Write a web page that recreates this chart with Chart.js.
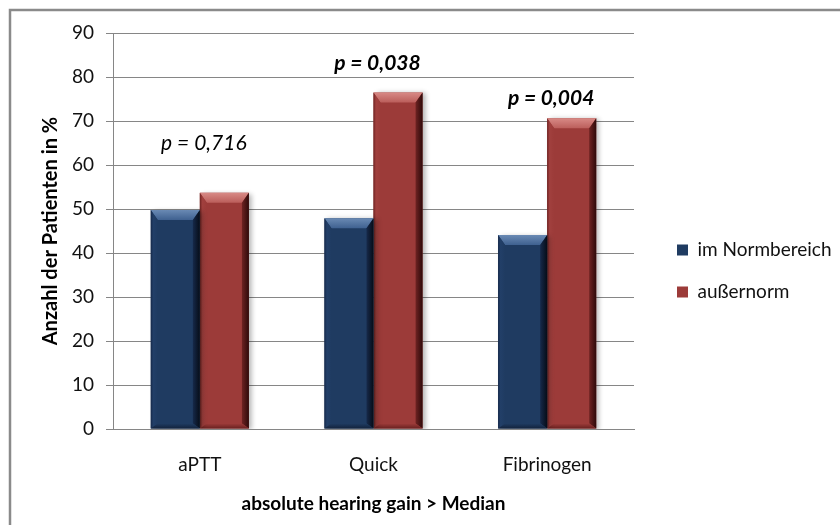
<!DOCTYPE html>
<html>
<head>
<meta charset="utf-8">
<script src="https://cdn.jsdelivr.net/npm/chart.js@4.4.1/dist/chart.umd.min.js"></script>
<style>
html,body{margin:0;padding:0;background:#fff;}
#wrap{width:840px;height:525px;position:relative;}
</style>
</head>
<body>
<div id="wrap"><canvas id="c" width="840" height="525"></canvas></div>
<script>
// ---- data ----
const categories = ['aPTT', 'Quick', 'Fibrinogen'];
const seriesNames = ['im Normbereich', 'außernorm'];
const normValues = [49.8, 47.9, 44.1];
const abnormValues = [53.7, 76.5, 70.6];
const pTexts = ['p = 0,716', 'p = 0,038', 'p = 0,004'];
const pBold = [false, true, true];
const pAtValue = [65.0, 83.2, 75.2];
const yMin = 0, yMax = 90, yStep = 10;
const yTitle = 'Anzahl der Patienten in %';
const xTitle = 'absolute hearing gain > Median';

// ---- style ----
const FONT = 'Lato, "Open Sans", sans-serif';
const TXT = '#111';
const GRID = '#868686';
const PLOT_RIGHT = 634;
const LEGEND_BOX_X = 677;
const LEGEND_SHIFT_Y = -8;

const palette = [
  {face:'#1f3b61', topHi:'#6a8ab4', top:'#3f6190', left:'#223f68', r1:'#16294a', r2:'#060d18', bottom:'#13233d'},
  {face:'#9c3b39', topHi:'#d88a86', top:'#bb5e5b', left:'#a1403e', r1:'#6e2322', r2:'#2e0a0a', bottom:'#6a2120'}
];

function poly(ctx, pts, fill){
  ctx.beginPath();
  ctx.moveTo(pts[0][0], pts[0][1]);
  for (let i = 1; i < pts.length; i++) ctx.lineTo(pts[i][0], pts[i][1]);
  ctx.closePath();
  ctx.fillStyle = fill;
  ctx.fill();
}

const framePlugin = {
  id: 'frame',
  beforeDraw(chart){
    const ctx = chart.ctx;
    ctx.save();
    ctx.fillStyle = '#fff';
    ctx.fillRect(0, 0, chart.width, chart.height);
    ctx.strokeStyle = '#8a8a8a';
    ctx.lineWidth = 2.5;
    ctx.strokeRect(10, 10, chart.width + 40, chart.height + 40);
    ctx.restore();
  }
};

const bevelPlugin = {
  id: 'bevel',
  beforeDatasetDraw(chart){
    const ctx = chart.ctx;
    ctx.save();
    ctx.shadowColor = 'rgba(0,0,0,0.3)';
    ctx.shadowBlur = 5;
    ctx.shadowOffsetX = 3;
    ctx.shadowOffsetY = 1;
  },
  afterDatasetDraw(chart, args){
    const ctx = chart.ctx;
    ctx.restore();
    const c = palette[args.index];
    const meta = args.meta;
    ctx.save();
    meta.data.forEach(el => {
      const p = el.getProps(['x','y','base','width'], true);
      const l = p.x - p.width/2, r = p.x + p.width/2;
      const t = Math.min(p.y, p.base), b = Math.max(p.y, p.base);
      const dt = 10, dl = 7, dr = 7, db = 5;
      let g = ctx.createLinearGradient(0, t, 0, t + dt);
      g.addColorStop(0, c.topHi); g.addColorStop(1, c.top);
      poly(ctx, [[l,t],[r,t],[r-dr,t+dt],[l+dl,t+dt]], g);
      g = ctx.createLinearGradient(r - dr, 0, r, 0);
      g.addColorStop(0, c.r1); g.addColorStop(1, c.r2);
      poly(ctx, [[r,t],[r,b],[r-dr,b-db],[r-dr,t+dt]], g);
      g = ctx.createLinearGradient(l, 0, l + dl, 0);
      g.addColorStop(0, c.r1); g.addColorStop(0.35, c.left); g.addColorStop(1, c.face);
      poly(ctx, [[l,t],[l+dl,t+dt],[l+dl,b-db],[l,b]], g);
      g = ctx.createLinearGradient(0, b - db, 0, b);
      g.addColorStop(0, c.face); g.addColorStop(1, c.bottom);
      poly(ctx, [[l,b],[l+dl,b-db],[r-dr,b-db],[r,b]], g);
    });
    ctx.restore();
  }
};

const pLabelPlugin = {
  id: 'pLabels',
  afterDatasetsDraw(chart){
    const ctx = chart.ctx;
    const xs = chart.scales.x, ys = chart.scales.y;
    ctx.save();
    ctx.fillStyle = '#000';
    ctx.textAlign = 'center';
    ctx.textBaseline = 'middle';
    pTexts.forEach((t, i) => {
      ctx.font = (pBold[i] ? 'italic bold ' : 'italic ') + '21px ' + FONT;
      ctx.fillText(t, xs.getPixelForValue(i) + 4, ys.getPixelForValue(pAtValue[i]));
    });
    ctx.restore();
  }
};

const legendPlacePlugin = {
  id: 'legendPlace',
  afterInit(chart){
    const lg = chart.legend;
    if (!lg) return;
    const f = lg.fit.bind(lg);
    lg.fit = function(){ f(); this.width = chart.width - PLOT_RIGHT; };
  },
  afterLayout(chart){
    const lg = chart.legend;
    if (!lg) return;
    const pad = lg.options.labels.padding;
    const w = lg.width;
    lg.left = LEGEND_BOX_X - pad;
    lg.right = lg.left + w;
    lg.top += LEGEND_SHIFT_Y;
    lg.bottom += LEGEND_SHIFT_Y;
  }
};

new Chart(document.getElementById('c'), {
  type: 'bar',
  data: {
    labels: categories,
    datasets: [
      {label: seriesNames[0], data: normValues, backgroundColor: palette[0].face},
      {label: seriesNames[1], data: abnormValues, backgroundColor: palette[1].face}
    ]
  },
  options: {
    responsive: false,
    animation: false,
    events: [],
    categoryPercentage: 0.565,
    barPercentage: 1.0,
    layout: {padding: {top: 33, left: 0, right: 0, bottom: 0}},
    plugins: {
      tooltip: {enabled: false},
      legend: {
        position: 'right',
        align: 'center',
        labels: {
          boxWidth: 11, boxHeight: 11, padding: 23,
          color: TXT,
          font: {family: FONT, size: 19}
        }
      }
    },
    scales: {
      x: {
        grid: {display: false, drawTicks: false},
        border: {display: true, color: GRID, width: 1},
        ticks: {color: TXT, font: {family: FONT, size: 19}, padding: 24},
        title: {display: true, text: xTitle, color: '#000',
                font: {family: FONT, size: 19, weight: 'bold'}, padding: {top: 4, bottom: 10}},
        afterFit(s){ s.height = 96; }
      },
      y: {
        min: yMin, max: yMax,
        ticks: {stepSize: yStep, color: TXT, font: {family: FONT, size: 19}, padding: 12},
        grid: {color: GRID, lineWidth: 1, tickLength: 7, drawTicks: true},
        border: {display: true, color: GRID, width: 1},
        title: {display: true, text: yTitle, color: '#000',
                font: {family: FONT, size: 20, weight: 'bold'}, padding: {top: 39, bottom: 0}},
        afterFit(s){ s.width = 113; }
      }
    }
  },
  plugins: [framePlugin, bevelPlugin, pLabelPlugin, legendPlacePlugin]
});
</script>
</body>
</html>
